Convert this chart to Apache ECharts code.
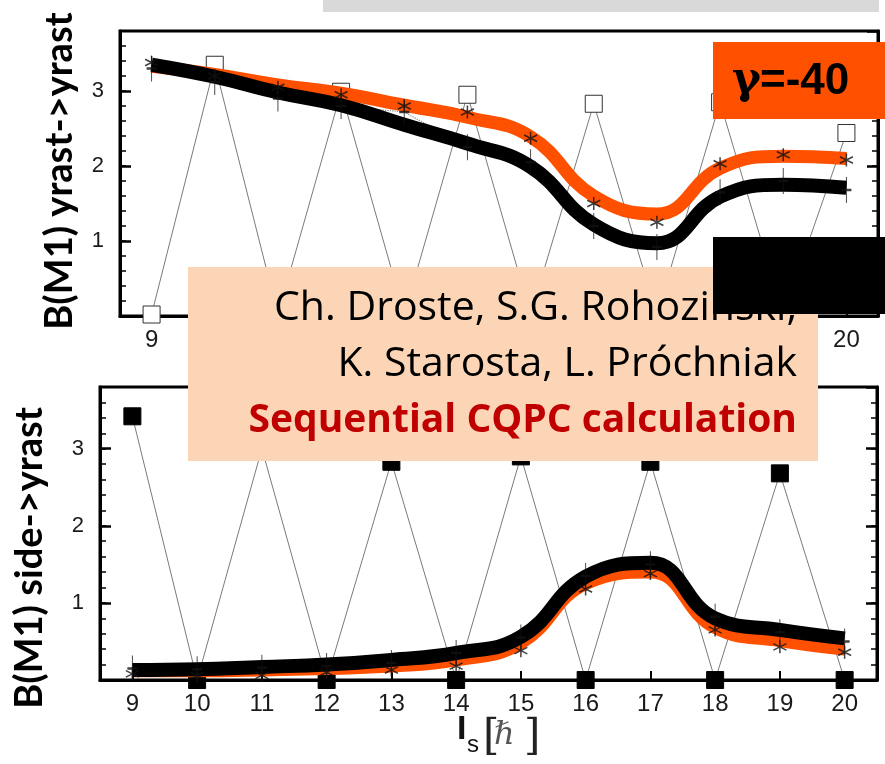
<!DOCTYPE html>
<html>
<head>
<meta charset="utf-8">
<script src="https://cdn.jsdelivr.net/npm/echarts@6/dist/echarts.min.js"></script>
<style>
html,body{margin:0;padding:0;background:#fff;}
#chart{width:885px;height:764px;}
</style>
</head>
<body>
<div id="chart"></div>
<script>
// ---- data ----
const categories = ['9','10','11','12','13','14','15','16','17','18','19','20'];
const yTickLabels = [1, 2, 3];

// top panel: B(M1) yrast->yrast
const topSquares = [0.02, 3.35, 0.02, 2.99, 0.02, 2.95, 0.02, 2.83, 0.02, 2.85, 0.02, 2.44];
const topOrange  = [3.33, 3.22, 3.08, 2.97, 2.81, 2.65, 2.39, 1.60, 1.36, 1.97, 2.13, 2.10];
const topBlack   = [3.35, 3.19, 2.98, 2.81, 2.55, 2.30, 1.99, 1.22, 0.97, 1.59, 1.75, 1.71];
const topPlus    = [3.30, 3.12, 2.90, 2.80, 2.72, 2.25, 2.05, 1.20, 0.92, 1.65, 1.80, 1.68];
const topStar    = [3.38, 3.20, 3.05, 2.95, 2.80, 2.72, 2.37, 1.50, 1.25, 2.03, 2.15, 2.08];

// bottom panel: B(M1) side->yrast
const botSquares = [3.42, 0.00, 3.00, 0.00, 2.83, 0.00, 2.90, 0.00, 2.83, 0.00, 2.68, 0.00];
const botOrange  = [0.12, 0.12, 0.13, 0.15, 0.18, 0.26, 0.48, 1.25, 1.40, 0.68, 0.51, 0.40];
const botBlack   = [0.13, 0.14, 0.17, 0.20, 0.26, 0.35, 0.56, 1.34, 1.52, 0.80, 0.65, 0.54];
const botPlus    = [0.15, 0.14, 0.16, 0.18, 0.22, 0.35, 0.55, 1.35, 1.50, 0.82, 0.62, 0.50];
const botStar    = [0.08, 0.06, 0.06, 0.10, 0.13, 0.18, 0.38, 1.18, 1.38, 0.65, 0.43, 0.36];

// ---- styling helpers ----
const PLUS = 'path://M5,0 L5,26 M0,13 L10,13';
const STAR = 'path://M6,0 L6,12 M0,3 L12,9 M0,9 L12,3';
const ORANGE = '#ff5000';

function xAxisFor(gi) {
  return {
    type: 'category', gridIndex: gi, data: categories, boundaryGap: true,
    axisLine: { show: true, lineStyle: { color: '#000', width: 3 } },
    axisTick: { show: true, alignWithLabel: true, inside: true, length: 9, interval: 0, lineStyle: { color: '#000', width: 2 } },
    axisLabel: { show: true, interval: 0, fontSize: 24, color: '#1a1a1a', margin: 12, fontFamily: 'Liberation Sans' },
    splitLine: { show: false }
  };
}
function yAxesFor(gi) {
  const base = { type: 'value', gridIndex: gi, min: 0, max: 3.8, splitLine: { show: false } };
  return [
    Object.assign({}, base, {
      position: 'left', interval: 1,
      axisLine: { show: true, lineStyle: { color: '#000', width: 3 } },
      axisTick: { show: true, inside: true, length: 11, lineStyle: { color: '#000', width: 2.5 } },
      axisLabel: { show: true, fontSize: 22, color: '#1a1a1a', margin: 16, fontFamily: 'Liberation Sans',
        showMinLabel: false, showMaxLabel: false,
        formatter: v => (yTickLabels.indexOf(Math.round(v * 10) / 10) >= 0 ? String(v) : '') }
    }),
    Object.assign({}, base, {
      position: 'left', interval: 0.2,
      axisLine: { show: false },
      axisTick: { show: true, inside: true, length: 6, lineStyle: { color: '#000', width: 1.5 } },
      axisLabel: { show: false }
    }),
    Object.assign({}, base, {
      position: 'right', interval: 1,
      axisLine: { show: true, lineStyle: { color: '#000', width: 3 } },
      axisTick: { show: true, inside: true, length: 11, lineStyle: { color: '#000', width: 2.5 } },
      axisLabel: { show: false }
    }),
    Object.assign({}, base, {
      position: 'right', interval: 0.2,
      axisLine: { show: false },
      axisTick: { show: true, inside: true, length: 6, lineStyle: { color: '#000', width: 1.5 } },
      axisLabel: { show: false }
    })
  ];
}

function panelSeries(xi, yi, squares, filled, orange, black, plus, star, dottedPlus) {
  const s = [
    { type: 'line', xAxisIndex: xi, yAxisIndex: yi, data: squares, z: 2,
      symbol: 'rect', symbolSize: 17,
      itemStyle: { color: filled ? '#000' : '#fff', borderColor: filled ? '#000' : '#333', borderWidth: 1 },
      lineStyle: { color: '#7a7a7a', width: 1 } }
  ];
  if (dottedPlus) {
    s.push({ type: 'line', xAxisIndex: xi, yAxisIndex: yi, data: plus, z: 3, symbol: 'none',
      lineStyle: { color: '#888', width: 1.2, type: 'dotted' } });
  }
  s.push(
    { type: 'line', xAxisIndex: xi, yAxisIndex: yi, data: orange, z: 4, smooth: 0.45,
      symbol: 'none', lineStyle: { color: ORANGE, width: 13 } },
    { type: 'line', xAxisIndex: xi, yAxisIndex: yi, data: black, z: 5, smooth: 0.45,
      symbol: 'none', lineStyle: { color: '#000', width: 14 } },
    { type: 'scatter', xAxisIndex: xi, yAxisIndex: yi, data: plus, z: 6,
      symbol: PLUS, symbolSize: [10, 26],
      itemStyle: { color: 'rgba(0,0,0,0)', borderColor: '#111', borderWidth: 1.5 } },
    { type: 'scatter', xAxisIndex: xi, yAxisIndex: yi, data: star, z: 6,
      symbol: STAR, symbolSize: 13,
      itemStyle: { color: 'rgba(0,0,0,0)', borderColor: '#111', borderWidth: 1.5 } }
  );
  return s;
}

const chart = echarts.init(document.getElementById('chart'), null, { renderer: 'canvas' });
const option = {
  animation: false,
  backgroundColor: '#ffffff',
  grid: [
    { left: 120, top: 31, width: 758, height: 285, show: true, borderColor: '#000', borderWidth: 3, backgroundColor: 'rgba(0,0,0,0)' },
    { left: 100, top: 387, width: 777, height: 293, show: true, borderColor: '#000', borderWidth: 3, backgroundColor: 'rgba(0,0,0,0)' }
  ],
  xAxis: [xAxisFor(0), xAxisFor(1)],
  yAxis: yAxesFor(0).concat(yAxesFor(1)),
  series: panelSeries(0, 0, topSquares, false, topOrange, topBlack, topPlus, topStar, true)
    .concat(panelSeries(1, 4, botSquares, true, botOrange, botBlack, botPlus, botStar, false)),
  graphic: [
    { type: 'text', z: 50, x: 60, y: 171, rotation: Math.PI / 2,
      style: { text: 'B(M1) yrast->yrast', align: 'center', verticalAlign: 'middle', fill: '#000', font: 'bold 38px Lato' } },
    { type: 'text', z: 50, x: 30, y: 558, rotation: Math.PI / 2,
      style: { text: 'B(M1) side->yrast', align: 'center', verticalAlign: 'middle', fill: '#000', font: 'bold 38px Lato' } },
    // x-axis title  I_s [ħ]
    { type: 'text', z: 50, x: 457, y: 747, style: { text: 'I', align: 'left', verticalAlign: 'bottom', fill: '#111', font: 'bold 34px "Liberation Sans"' } },
    { type: 'text', z: 50, x: 467, y: 757, style: { text: 's', align: 'left', verticalAlign: 'bottom', fill: '#111', font: '24px "Liberation Sans"' } },
    { type: 'text', z: 50, x: 483, y: 738, style: { text: '[', align: 'left', verticalAlign: 'middle', fill: '#222', font: '42px "DejaVu Serif"' } },
    { type: 'text', z: 50, x: 494, y: 736, style: { text: 'ℏ', align: 'left', verticalAlign: 'middle', fill: '#555', font: 'italic 32px "DejaVu Serif"' } },
    { type: 'text', z: 50, x: 524, y: 738, style: { text: ']', align: 'left', verticalAlign: 'middle', fill: '#222', font: '42px "DejaVu Serif"' } },
    // overlays
    { type: 'rect', z: 100, shape: { x: 323, y: 0, width: 556, height: 12 }, style: { fill: '#d9d9d9' } },
    { type: 'rect', z: 100, shape: { x: 713, y: 42, width: 172, height: 77 }, style: { fill: ORANGE } },
    { type: 'text', z: 101, x: 732, y: 82, style: { text: 'γ', align: 'left', verticalAlign: 'middle', fill: '#000', font: 'bold 44px "DejaVu Serif"' } },
    { type: 'text', z: 101, x: 760, y: 82, style: { text: '=-40', align: 'left', verticalAlign: 'middle', fill: '#000', font: 'bold 44px "Liberation Sans"' } },
    { type: 'rect', z: 100, shape: { x: 188, y: 267, width: 630, height: 194 }, style: { fill: '#fbd5b5' } },
    { type: 'text', z: 101, x: 797, y: 308, style: { text: 'Ch. Droste, S.G. Rohozinski,', align: 'right', verticalAlign: 'middle', fill: '#000', font: '41px "Open Sans"' } },
    { type: 'text', z: 101, x: 797, y: 364, style: { text: 'K. Starosta, L. Próchniak', align: 'right', verticalAlign: 'middle', fill: '#000', font: '41px "Open Sans"' } },
    { type: 'text', z: 101, x: 797, y: 421, style: { text: 'Sequential CQPC calculation', align: 'right', verticalAlign: 'middle', fill: '#c00000', font: 'bold 39px "Open Sans"' } },
    { type: 'rect', z: 102, shape: { x: 713, y: 237, width: 172, height: 77 }, style: { fill: '#000' } }
  ]
};
chart.setOption(option);
</script>
</body>
</html>
